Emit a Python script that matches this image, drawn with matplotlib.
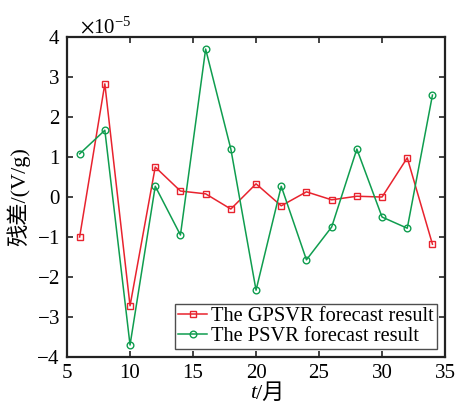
import matplotlib
matplotlib.use("Agg")
import matplotlib.pyplot as plt
from matplotlib.ticker import ScalarFormatter

months = [6, 8, 10, 12, 14, 16, 18, 20, 22, 24, 26, 28, 30, 32, 34]
gpsvr = [-1.00, 2.83, -2.72, 0.75, 0.15, 0.08, -0.30, 0.33, -0.22, 0.13, -0.07, 0.02, 0.00, 0.98, -1.18]
psvr = [1.08, 1.67, -3.70, 0.27, -0.95, 3.70, 1.20, -2.33, 0.27, -1.57, -0.75, 1.20, -0.50, -0.78, 2.55]
scale = 1e-5
x_ticks = [5, 10, 15, 20, 25, 30, 35]
y_ticks = [-4, -3, -2, -1, 0, 1, 2, 3, 4]

serif = ["Liberation Serif", "DejaVu Serif"]
cjk = ["Liberation Serif", "Noto Sans CJK SC"]
plt.rcParams["font.family"] = serif
plt.rcParams["mathtext.fontset"] = "stix"

fig = plt.figure(figsize=(4.56, 4.05), dpi=100)
ax = fig.add_axes([0.147, 0.1185, 0.829, 0.790])

red = "#e8232e"
green = "#0f9d4f"
ax.plot(months, [v * scale for v in gpsvr], color=red, lw=1.1, marker="s",
        ms=4.8, mfc="none", mec=red, mew=1.0, label="The GPSVR forecast result")
ax.plot(months, [v * scale for v in psvr], color=green, lw=1.1, marker="o",
        ms=4.8, mfc="none", mec=green, mew=1.0, label="The PSVR forecast result")

ax.set_xlim(5, 35)
ax.set_ylim(-4 * scale, 4 * scale)
ax.set_xticks(x_ticks)
ax.set_yticks([t * scale for t in y_ticks])

fmt = ScalarFormatter(useMathText=True)
fmt.set_powerlimits((0, 0))
ax.yaxis.set_major_formatter(fmt)
off = ax.yaxis.get_offset_text()
off.set_fontsize(15)
off.set_x(0.035)

ax.tick_params(direction="in", top=True, right=True, length=4, width=1.2,
               labelsize=15, pad=5, color="#222222")
for sp in ax.spines.values():
    sp.set_linewidth(1.6)
    sp.set_color("#222222")

# x label: italic t followed by "/月"
ax.text(0.5, -0.085, "t", transform=ax.transAxes, ha="right", va="top",
        fontsize=16, style="italic", family=serif)
ax.text(0.5, -0.085, "/月", transform=ax.transAxes, ha="left", va="top",
        fontsize=16, family=cjk)

ax.set_ylabel("残差/(V/g)", fontsize=16, family=cjk, labelpad=4)

leg = ax.legend(loc="lower right", fontsize=14.7, frameon=True, fancybox=False,
                edgecolor="#222222", handlelength=1.4, borderpad=0.15,
                labelspacing=0.0, handletextpad=0.2, borderaxespad=0.4)
leg.get_frame().set_linewidth(1.0)

fig.savefig("out.png", dpi=100)
